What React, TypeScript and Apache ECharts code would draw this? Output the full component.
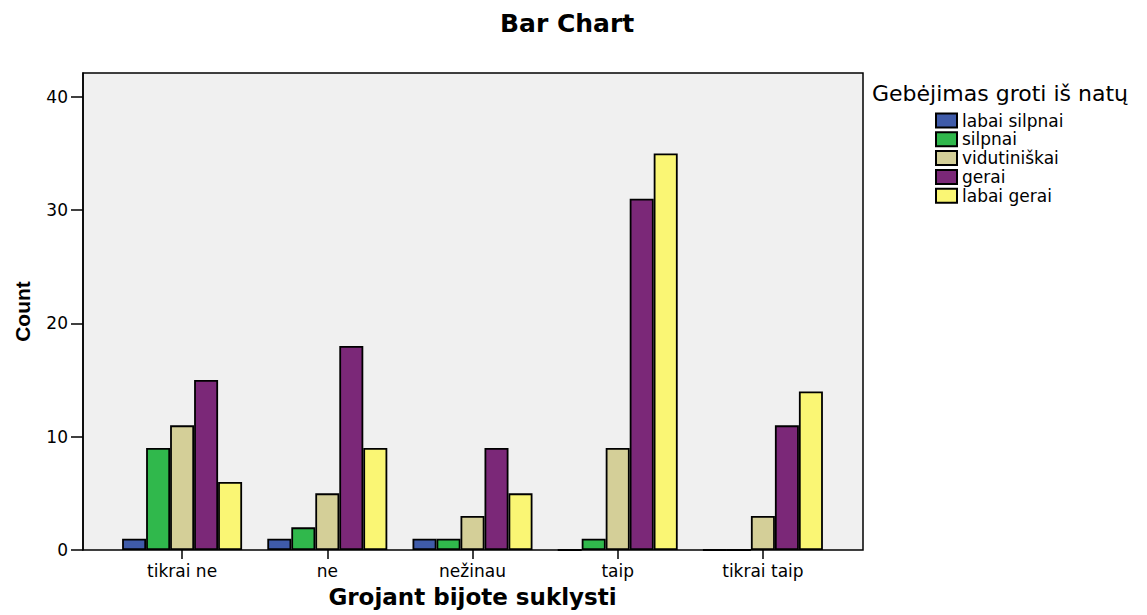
import React, { useEffect, useRef } from "react";
import * as echarts from "echarts";

const categories = ["tikrai ne", "ne", "nežinau", "taip", "tikrai taip"];
const seriesNames = ["labai silpnai", "silpnai", "vidutiniškai", "gerai", "labai gerai"];
const labaiSilpnai = [1, 1, 1, 0, 0];
const silpnai = [9, 2, 1, 1, 0];
const vidutiniskai = [11, 5, 3, 9, 3];
const gerai = [15, 18, 9, 31, 11];
const labaiGerai = [6, 9, 5, 35, 14];
const yTicks = [0, 10, 20, 30, 40];
const colors = ["#3F5BA9", "#30B84C", "#D4CF98", "#7B2878", "#FAF674"];

const FONT = "'DejaVu Sans', sans-serif";

export default function App() {
  const ref = useRef<HTMLDivElement>(null);
  useEffect(() => {
    document.body.style.margin = "0";
    const chart = echarts.init(ref.current!, null, { renderer: "svg" });
    const values = [labaiSilpnai, silpnai, vidutiniskai, gerai, labaiGerai];
    const yMax = 42.1;
    chart.setOption({
      animation: false,
      backgroundColor: "#ffffff",
      title: [
        {
          text: "Bar Chart",
          left: 495,
          top: 6,
          textStyle: { fontFamily: FONT, fontWeight: "bold", fontSize: 25, color: "#000" },
        },
        {
          text: "Gebėjimas groti iš natų",
          left: 872,
          top: 82,
          padding: 0,
          textStyle: { fontFamily: FONT, fontWeight: "normal", fontSize: 22, color: "#000" },
        },
      ],
      legend: {
        orient: "vertical",
        left: 935,
        top: 112,
        padding: 0,
        itemWidth: 21,
        itemHeight: 14,
        itemGap: 1.8,
        icon: "rect",
        data: seriesNames,
        textStyle: { fontFamily: FONT, fontSize: 17, lineHeight: 17, color: "#000", padding: [0, 0, 0, 0] },
      },
      grid: [
        {
          left: 83,
          right: 284,
          top: 73,
          bottom: 65,
          show: true,
          backgroundColor: "#F0F0F0",
          borderColor: "#000",
          borderWidth: 1.5,
        },
        {
          left: 109.5,
          right: 311.5,
          top: 73,
          bottom: 65,
        },
      ],
      xAxis: [
        {
          type: "value",
          gridIndex: 0,
          show: false,
          min: 0,
          max: 1,
        },
        {
          type: "category",
          gridIndex: 1,
          data: categories,
          axisLine: { show: false },
          axisTick: { show: true, alignWithLabel: true, length: 9, lineStyle: { color: "#000", width: 1.5 } },
          axisLabel: { margin: 12, fontFamily: FONT, fontSize: 17, color: "#000" },
          name: "Grojant bijote suklysti",
          nameLocation: "middle",
          nameGap: 35,
          nameTextStyle: { fontFamily: FONT, fontWeight: "bold", fontSize: 23, color: "#000" },
        },
      ],
      yAxis: [
        {
          type: "value",
          gridIndex: 0,
          min: 0,
          max: yMax,
          splitLine: { show: false },
          axisLine: { show: true, lineStyle: { color: "#000", width: 1.5 } },
          axisTick: { show: true, length: 12, customValues: yTicks, lineStyle: { color: "#000", width: 1.5 } },
          axisLabel: { margin: 15, customValues: yTicks, fontFamily: FONT, fontSize: 17, color: "#000" },
          name: "Count",
          nameLocation: "middle",
          nameRotate: 90,
          nameGap: 50,
          nameTextStyle: {
            fontFamily: "'Liberation Sans', Arial, sans-serif",
            fontWeight: "bold",
            fontSize: 21,
            color: "#000",
          },
        },
        {
          type: "value",
          gridIndex: 1,
          min: 0,
          max: yMax,
          show: false,
          splitLine: { show: false },
        },
      ],
      series: seriesNames.map((name, i) => ({
        name,
        type: "bar",
        xAxisIndex: 1,
        yAxisIndex: 1,
        data: values[i],
        barWidth: 24,
        barGap: "0%",
        itemStyle: { color: colors[i], borderColor: "#000", borderWidth: 1.8 },
      })),
    });
    return () => chart.dispose();
  }, []);
  return <div ref={ref} style={{ width: 1147, height: 615 }} />;
}
